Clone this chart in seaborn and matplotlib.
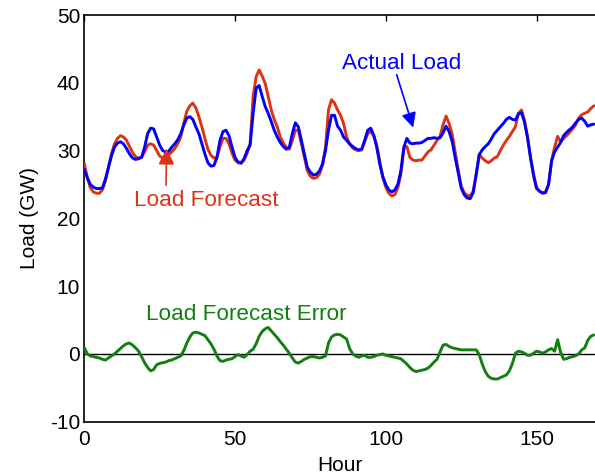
import numpy as np
import pandas as pd
import matplotlib
matplotlib.use("Agg")
import matplotlib.pyplot as plt
import seaborn as sns

# Hourly load over one week (GW)
hours = np.arange(170)

actual_load = [
    27.2, 26.0, 25.0, 24.6, 24.4, 24.4, 24.5, 25.8, 27.5, 29.2,
    30.5, 31.1, 31.3, 31.0, 30.3, 29.5, 28.9, 28.7, 28.8, 29.0,
    30.5, 32.5, 33.3, 33.2, 32.0, 30.8, 30.0, 29.8, 29.9, 30.5,
    31.0, 31.6, 32.5, 33.8, 34.8, 35.0, 34.6, 33.5, 32.5, 31.0,
    29.5, 28.2, 27.7, 27.8, 29.0, 31.5, 32.8, 33.0, 32.2, 30.5,
    29.0, 28.3, 28.2, 28.8, 30.0, 30.8, 35.5, 39.2, 39.6, 38.0,
    36.5, 35.5, 34.3, 33.0, 32.0, 31.2, 30.6, 30.2, 30.5, 32.5,
    34.1, 33.5, 31.5, 29.5, 27.5, 26.8, 26.4, 26.5, 27.0, 28.0,
    30.0, 33.0, 35.2, 35.2, 33.6, 33.0, 32.0, 31.5, 31.0, 30.6,
    30.3, 30.1, 30.2, 31.5, 33.0, 33.3, 32.3, 30.5, 28.0, 26.2,
    25.0, 24.2, 23.9, 24.2, 25.0, 27.0, 30.5, 31.8, 31.1, 31.0,
    31.1, 31.1, 31.2, 31.5, 31.8, 31.8, 31.9, 31.8, 31.9, 32.6,
    33.6, 32.8, 31.4, 29.0, 26.8, 24.5, 23.5, 23.0, 22.9, 23.8,
    26.5, 29.4, 30.1, 30.6, 31.0, 31.7, 32.5, 33.0, 33.5, 34.0,
    34.6, 34.9, 34.6, 34.5, 35.4, 35.6, 34.2, 32.0, 29.0, 26.5,
    24.5, 24.0, 23.7, 23.8, 25.0, 28.5, 29.8, 30.5, 31.2, 32.2,
    32.7, 33.1, 33.5, 34.1, 34.6, 34.8, 34.3, 33.6, 33.8, 33.9,
]

forecast_load = [
    28.1, 26.0, 24.5, 23.9, 23.7, 23.7, 24.2, 25.5, 27.5, 29.5,
    31.0, 31.8, 32.2, 32.0, 31.5, 30.6, 29.7, 29.1, 28.9, 29.0,
    29.8, 30.8, 31.0, 30.8, 30.0, 29.2, 28.9, 29.0, 29.4, 29.8,
    30.3, 31.0, 32.0, 34.0, 35.8, 36.6, 37.0, 36.3, 35.0, 33.5,
    31.8, 30.2, 29.3, 28.9, 29.0, 30.5, 31.8, 31.8, 31.0, 29.6,
    28.6, 28.2, 28.1, 28.6, 29.6, 31.0, 38.0, 40.9, 41.9, 41.0,
    39.9, 38.0, 36.0, 34.6, 33.5, 32.0, 31.1, 30.5, 30.2, 31.5,
    33.0, 33.0, 31.0, 29.0, 27.0, 26.2, 25.9, 26.0, 26.5, 27.8,
    30.5, 36.0, 37.5, 37.0, 36.0, 35.2, 34.0, 32.0, 31.0, 30.4,
    30.1, 30.0, 30.1, 31.3, 32.5, 32.8, 32.2, 30.8, 28.5, 26.0,
    24.6, 23.7, 23.3, 23.5, 24.5, 26.5, 30.3, 30.6, 29.0, 28.6,
    28.5, 28.6, 28.6, 29.2, 29.8, 30.1, 30.8, 31.5, 32.1, 33.8,
    35.1, 34.0, 32.5, 29.8, 27.2, 24.8, 23.8, 23.4, 23.3, 24.0,
    26.5, 29.4, 28.9, 28.5, 28.2, 28.5, 28.9, 29.1, 30.0, 30.8,
    31.5, 32.1, 32.8, 33.5, 35.5, 36.0, 34.5, 32.0, 29.0, 26.3,
    24.4, 24.0, 23.8, 23.9, 25.0, 28.5, 30.5, 32.1, 31.3, 31.8,
    32.2, 32.7, 33.2, 33.8, 34.8, 35.3, 35.5, 35.7, 36.2, 36.6,
]

forecast_error = [
    0.9, 0.0, -0.3, -0.4, -0.5, -0.6, -0.8, -0.9, -0.6, -0.3,
    0.0, 0.4, 0.8, 1.2, 1.5, 1.6, 1.3, 0.9, 0.4, -0.4,
    -1.3, -2.0, -2.5, -2.3, -1.6, -1.4, -1.3, -1.2, -1.0, -0.9,
    -0.7, -0.5, -0.3, 0.5, 1.6, 2.5, 3.1, 3.2, 3.1, 2.9,
    2.7, 2.1, 1.5, 0.7, -0.3, -1.0, -1.1, -0.9, -0.8, -0.7,
    -0.4, -0.1, -0.3, -0.5, -0.1, 0.4, 0.7, 1.5, 2.6, 3.3,
    3.7, 3.9, 3.4, 2.9, 2.4, 1.8, 1.3, 0.7, 0.1, -0.6,
    -1.2, -1.35, -1.1, -0.8, -0.6, -0.4, -0.4, -0.5, -0.6, -0.5,
    -0.3, 1.6, 2.5, 2.8, 2.9, 2.8, 2.5, 2.2, 0.8, 0.0,
    -0.3, -0.5, -0.3, -0.2, -0.5, -0.5, -0.4, -0.2, -0.1, 0.0,
    -0.2, -0.3, -0.4, -0.5, -0.6, -0.7, -1.1, -1.5, -2.0, -2.4,
    -2.6, -2.5, -2.4, -2.3, -2.1, -1.7, -1.2, -0.8, 0.3, 1.3,
    1.4, 1.1, 0.9, 0.8, 0.7, 0.6, 0.6, 0.6, 0.6, 0.6,
    0.6, -0.1, -1.5, -2.6, -3.3, -3.6, -3.7, -3.7, -3.5, -3.3,
    -3.1, -2.5, -1.4, 0.1, 0.4, 0.3, 0.1, -0.2, -0.2, 0.1,
    0.4, 0.3, 0.1, 0.3, 0.6, 0.8, 0.4, 2.1, 0.2, -0.8,
    -0.7, -0.5, -0.4, -0.25, 0.0, 0.6, 0.9, 2.0, 2.6, 2.8,
]

x_ticks = [0, 50, 100, 150]
y_ticks = [-10, 0, 10, 20, 30, 40, 50]

BLUE = "#0000ff"
RED = "#dc3412"
GREEN = "#118011"

df = pd.DataFrame({
    "Hour": hours,
    "Actual": actual_load,
    "Forecast": forecast_load,
    "Error": forecast_error,
})

sns.set_style("white")
plt.rcParams["font.family"] = ["Liberation Sans", "DejaVu Sans"]
plt.rcParams["xtick.direction"] = "in"
plt.rcParams["ytick.direction"] = "in"
plt.rcParams["axes.unicode_minus"] = False

fig = plt.figure(figsize=(5.95, 4.75), dpi=100)
ax = fig.add_axes([0.1417, 0.1122, 0.8583, 0.8562])

ax.axhline(0, color="black", lw=1.0, zorder=1)
sns.lineplot(data=df, x="Hour", y="Forecast", color=RED, lw=2.1, ax=ax, zorder=3)
sns.lineplot(data=df, x="Hour", y="Actual", color=BLUE, lw=2.1, ax=ax, zorder=4)
sns.lineplot(data=df, x="Hour", y="Error", color=GREEN, lw=2.1, ax=ax, zorder=3)

ax.set_xlim(0, 169.4)
ax.set_ylim(-10, 50)
ax.set_xticks(x_ticks)
ax.set_yticks(y_ticks)
ax.tick_params(axis="both", labelsize=15, length=4, width=1, color="black",
               labelcolor="black", top=True, right=False)
ax.tick_params(axis="x", pad=6)
ax.tick_params(axis="y", pad=3)
ax.set_xlabel("Hour", fontsize=15, labelpad=5, color="black")
ax.set_ylabel("Load (GW)", fontsize=15, labelpad=8, color="black")

for side in ["left", "bottom", "top"]:
    ax.spines[side].set_color("black")
    ax.spines[side].set_linewidth(1.2)
ax.spines["right"].set_visible(False)

# Labels with pointer arrows
ax.annotate("", xy=(109.1, 33.4), xytext=(103.6, 41.2),
            arrowprops=dict(arrowstyle="-|>", color=BLUE, lw=1.2,
                            mutation_scale=22, shrinkA=0, shrinkB=0), zorder=5)
ax.text(105.2, 42.9, "Actual Load", color=BLUE, fontsize=16.2,
        ha="center", va="center")

ax.annotate("", xy=(27.3, 30.3), xytext=(27.1, 24.9),
            arrowprops=dict(arrowstyle="-|>", color=RED, lw=1.2,
                            mutation_scale=24, shrinkA=0, shrinkB=0), zorder=5)
ax.text(40.3, 22.7, "Load Forecast", color=RED, fontsize=16.2,
        ha="center", va="center")

ax.text(53.6, 5.75, "Load Forecast Error", color=GREEN, fontsize=16.2,
        ha="center", va="center")

fig.savefig("out.png", dpi=100)
